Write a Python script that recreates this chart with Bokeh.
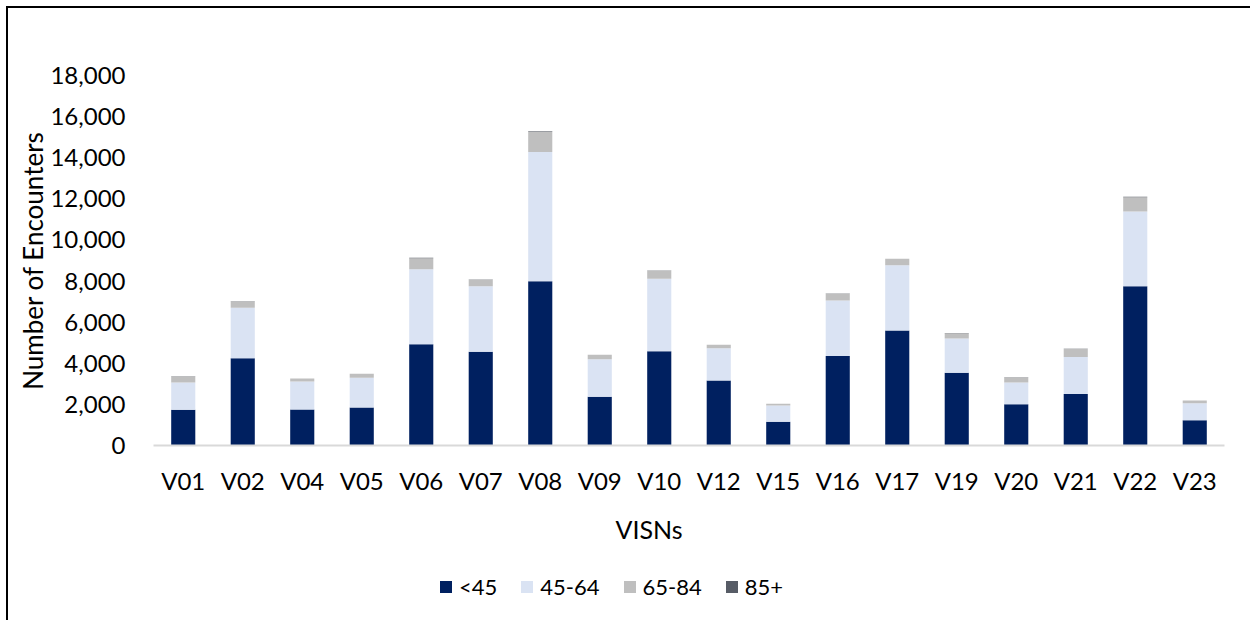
from bokeh.plotting import figure
from bokeh.layouts import column
from bokeh.models import (FactorRange, Range1d, FixedTicker, NumeralTickFormatter,
                          Legend, LegendItem, Title)
from bokeh.embed import file_html
from bokeh.resources import INLINE

visns = ["V01", "V02", "V04", "V05", "V06", "V07", "V08", "V09", "V10",
         "V12", "V15", "V16", "V17", "V19", "V20", "V21", "V22", "V23"]
age_lt45 = [1740, 4250, 1750, 1850, 4930, 4560, 7990, 2370, 4590,
            3160, 1150, 4360, 5590, 3540, 2010, 2510, 7750, 1230]
age_45_64 = [1320, 2450, 1360, 1440, 3650, 3190, 6290, 1830, 3520,
             1570, 800, 2690, 3180, 1660, 1050, 1790, 3630, 830]
age_65_84 = [300, 300, 150, 200, 530, 310, 990, 210, 390,
             170, 80, 330, 310, 260, 250, 400, 700, 130]
age_85p = [10, 15, 5, 5, 20, 15, 25, 10, 15,
           5, 5, 10, 10, 10, 5, 10, 20, 5]
series_names = ["<45", "45-64", "65-84", "85+"]
series_colors = ["#002060", "#dae3f3", "#bfbfbf", "#575c66"]
y_ticks = [0, 2000, 4000, 6000, 8000, 10000, 12000, 14000, 16000, 18000]

FONT = "Lato"

data = {"visn": visns, "<45": age_lt45, "45-64": age_45_64,
        "65-84": age_65_84, "85+": age_85p}

# main chart
p = figure(x_range=FactorRange(*visns, range_padding=0),
           y_range=Range1d(0, 18000),
           width=1244, height=554, output_backend="svg", toolbar_location=None,
           min_border_left=145, min_border_right=28, min_border_top=67,
           min_border_bottom=117)

renderers = p.vbar_stack(series_names, x="visn", width=0.405, color=series_colors,
                         line_color=None, source=data)

p.xgrid.visible = False
p.ygrid.visible = False
p.outline_line_color = None

p.yaxis.ticker = FixedTicker(ticks=y_ticks)
p.yaxis.formatter = NumeralTickFormatter(format="0,0")
p.yaxis.axis_line_color = None
p.yaxis.major_tick_line_color = None
p.yaxis.minor_tick_line_color = None
p.yaxis.major_label_standoff = 22
p.yaxis.axis_label = "Number of Encounters"
p.yaxis.axis_label_standoff = -2

p.xaxis.axis_line_color = "#d9d9d9"
p.xaxis.axis_line_width = 2
p.xaxis.major_tick_line_color = None
p.xaxis.minor_tick_line_color = None
p.xaxis.major_label_standoff = 14

for ax in (p.xaxis, p.yaxis):
    ax.major_label_text_font = FONT
    ax.major_label_text_font_size = "24px"
    ax.major_label_text_color = "#000000"
    ax.axis_label_text_font = FONT
    ax.axis_label_text_font_size = "26px"
    ax.axis_label_text_font_style = "normal"
    ax.axis_label_text_color = "#000000"

x_title = Title(text="VISNs", align="left", offset=462, standoff=28,
                text_font=FONT, text_font_size="25px", text_font_style="normal",
                text_color="#000000")
p.add_layout(x_title, "below")

# legend strip below the chart
lg = figure(x_range=FactorRange(*visns, range_padding=0), y_range=Range1d(0, 1),
            width=1244, height=60, output_backend="svg", toolbar_location=None,
            x_axis_type=None, y_axis_type=None,
            min_border_left=0, min_border_right=0, min_border_top=0, min_border_bottom=0)
lg.outline_line_color = None
lg_renderers = lg.vbar_stack(series_names, x="visn", width=0.405, color=series_colors,
                             line_color=None, source=data)
for r in lg_renderers:
    r.visible = False

legend = Legend(items=[LegendItem(label=n, renderers=[r]) for n, r in zip(series_names, lg_renderers)],
                orientation="horizontal", location=(285, 22),
                label_text_font=FONT, label_text_font_size="22px", label_text_color="#000000",
                glyph_width=15, glyph_height=15, label_standoff=6, spacing=22,
                padding=0, margin=0, border_line_color=None, background_fill_alpha=0)
lg.add_layout(legend, "center")

layout = column(p, lg, spacing=0)
layout.styles = {"margin-left": "6px", "margin-top": "6px",
                 "border-left": "2px solid black", "border-top": "2px solid black"}

open("out.html", "w").write(file_html(layout, INLINE))
